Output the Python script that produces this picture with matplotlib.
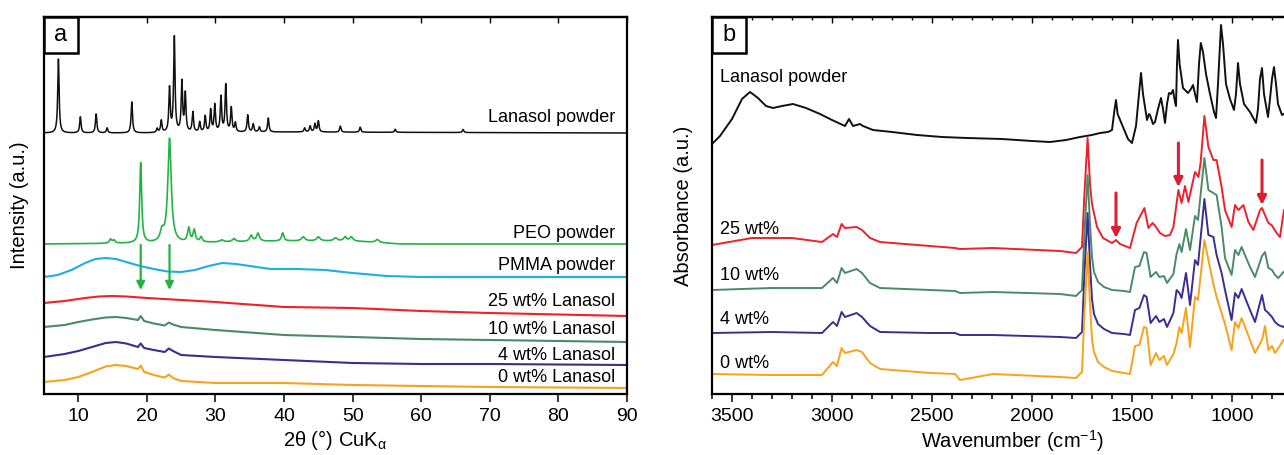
import numpy as np
import matplotlib
matplotlib.use("Agg")
import matplotlib.pyplot as plt
from matplotlib.patches import Rectangle

plt.rcParams["font.family"] = ["Liberation Sans", "DejaVu Sans"]
plt.rcParams["mathtext.fontset"] = "custom"
plt.rcParams["mathtext.rm"] = "Liberation Sans"
plt.rcParams["mathtext.it"] = "Liberation Sans:italic"

# ---------- panel a: XRD ----------
# sharp peaks: (2theta, height); half widths fixed below
lanasol_xrd_pos = [7.1, 10.3, 12.6, 14.2, 17.8, 21.5, 22.1, 23.3, 24.0, 25.1, 25.6, 26.7, 27.7,
                   28.5, 29.3, 29.9, 30.8, 31.5, 32.3, 32.9, 34.7, 35.5, 36.4, 37.7, 43.0, 43.8,
                   44.5, 45.0, 48.2, 51.1, 56.2, 66.1]
lanasol_xrd_h = [74, 16, 19, 5, 31, 4, 12, 44, 95, 50, 38, 20, 10,
                 16, 22, 27, 35, 47, 24, 9, 17, 8, 5, 14, 4, 6,
                 8, 11, 6, 5, 3, 3]
lanasol_xrd_base_x = [5, 20, 40, 90]
lanasol_xrd_base_y = [261, 261, 262, 261]

peo_xrd_pos = [14.7, 15.2, 19.1, 22.2, 23.3, 26.1, 26.9, 27.9, 30.9, 32.7, 35.2, 36.2, 39.8,
               42.8, 45.0, 47.5, 48.9, 49.8, 53.6]
peo_xrd_h = [4, 3, 80, 10, 104, 14, 12, 5, 2, 3, 6, 8, 8, 4, 4, 3, 4, 4, 3]
peo_xrd_w = [0.2, 0.2, 0.17, 0.3, 0.3, 0.2, 0.2, 0.2, 0.3, 0.3, 0.25, 0.25, 0.2,
             0.3, 0.3, 0.3, 0.25, 0.25, 0.3]
peo_xrd_base_x = [5, 25, 40, 50, 57, 90]
peo_xrd_base_y = [150, 151, 153, 153, 150, 150]

pmma_x = [5, 7, 9, 11, 12.5, 14, 15.5, 17, 19, 21, 23, 25, 27, 29, 31, 33, 35, 38, 42, 46,
          50, 55, 60, 70, 90]
pmma_y = [117, 119, 124, 131, 135, 136, 135, 132, 128, 125, 122.5, 122, 124, 128, 131, 130,
          128, 125, 125, 124, 121, 118, 117, 117, 117]

wt25_x = [5, 8, 11, 13, 15, 17, 20, 25, 30, 40, 50, 60, 70, 90]
wt25_y = [91, 93, 96, 97.5, 98, 97.5, 96, 94, 92, 87, 86, 83, 81, 78]

film_x = [5, 8, 10, 12, 14, 15.5, 17, 18.7, 19.1, 19.6, 21, 22.6, 23.2, 23.8, 25, 30, 40,
          50, 60, 70, 90]
wt10_y = [67, 69, 72, 74.5, 76.5, 77, 76, 74, 78, 73, 70.5, 68.5, 71.5, 69.5, 67, 64, 59,
          57, 55, 54, 52]
wt4_y = [37, 40, 43, 47, 51, 52, 50.5, 47, 50.5, 46, 44, 42, 45.5, 43, 39, 37, 34,
         31, 30, 30, 29]
wt0_y = [12, 14, 17, 22, 27.5, 29, 28, 25, 28.5, 22, 19, 16.5, 19.5, 16, 13, 11, 11,
         9, 8, 7, 6]

xrd_labels = ["Lanasol powder", "PEO powder", "PMMA powder", "25 wt% Lanasol",
              "10 wt% Lanasol", "4 wt% Lanasol", "0 wt% Lanasol"]
xrd_label_y = [276, 161, 128, 93, 64, 38, 17]
xrd_arrow_x = [19.1, 23.3]

# ---------- panel b: FTIR ----------
lanasol_ir_wn = [3600, 3560, 3500, 3450, 3410, 3370, 3330, 3295, 3250, 3195, 3130, 3060, 3000,
                 2935, 2915, 2895, 2860, 2845, 2795, 2700, 2575, 2450, 2325, 2150, 2000, 1910,
                 1830, 1760, 1700, 1660, 1620, 1600, 1587, 1580, 1572, 1545, 1520, 1500, 1480,
                 1465, 1455, 1445, 1425, 1415, 1410, 1395, 1385, 1370, 1355, 1345, 1335, 1325,
                 1315, 1305, 1295, 1285, 1280, 1275, 1270, 1262, 1245, 1220, 1205, 1195, 1185,
                 1175, 1165, 1156, 1145, 1130, 1110, 1090, 1080, 1070, 1055, 1045, 1030, 1010,
                 990, 980, 970, 960, 940, 910, 880, 870, 860, 850, 840, 820, 810, 800, 790,
                 780, 770, 750, 700, 650, 600]
lanasol_ir_y = [250, 258, 275, 295, 302, 296, 288, 286, 288, 290, 286, 280, 274,
                268, 275, 268, 270, 268, 264, 262, 259, 257, 256, 255, 253, 252,
                254, 257, 259, 261, 262, 264, 285, 294, 280, 267, 255, 251, 268,
                300, 321, 300, 274, 280, 279, 270, 272, 285, 296, 285, 271, 290,
                301, 300, 304, 292, 288, 330, 354, 330, 306, 301, 305, 309, 300,
                292, 330, 351, 342, 320, 300, 282, 276, 310, 369, 350, 310, 295,
                284, 300, 331, 310, 290, 282, 271, 285, 315, 326, 300, 277, 295, 315, 327,
                310, 290, 279, 285, 290, 290]

wt25_ir_wn = [3600, 3400, 3200, 3050, 2995, 2975, 2952, 2935, 2877, 2850, 2810, 2760, 2510,
              2385, 2360, 2195, 1860, 1780, 1750, 1738, 1722, 1710, 1700, 1675, 1645, 1600,
              1580, 1560, 1510, 1477, 1438, 1418, 1397, 1380, 1360, 1335, 1310, 1293, 1268,
              1252, 1235, 1218, 1185, 1168, 1157, 1138, 1118, 1093, 1077, 1052, 1035, 1002,
              985, 968, 943, 918, 893, 860, 850, 818, 802, 777, 760, 740, 700, 600]
wt25_ir_y = [149, 156, 156, 152, 160, 157, 170, 166, 167, 164, 156, 152, 148,
             146, 145, 146, 143, 141, 147, 200, 256, 210, 190, 167, 156, 151,
             154, 150, 146, 171, 186, 166, 171, 167, 161, 158, 159, 167, 204,
             191, 208, 192, 222, 217, 231, 278, 247, 234, 234, 207, 184, 167,
             189, 184, 189, 172, 164, 184, 186, 171, 169, 161, 157, 184, 190, 190]

# 10, 4 and 0 wt% share the same digitised positions
film_ir_wn = [3600, 3300, 3050, 2995, 2975, 2952, 2935, 2877, 2850, 2810, 2760, 2510, 2385,
              2360, 2195, 1860, 1780, 1750, 1738, 1722, 1710, 1700, 1690, 1670, 1640, 1600,
              1540, 1510, 1485, 1463, 1440, 1427, 1407, 1380, 1363, 1340, 1325, 1293, 1277,
              1263, 1252, 1230, 1210, 1185, 1170, 1138, 1118, 1093, 1077, 1052, 1035, 1002,
              985, 968, 952, 910, 885, 850, 835, 818, 800, 785, 768, 743, 700, 600]
wt10_ir_y = [104, 106, 106, 116, 111, 126, 121, 125, 121, 111, 106, 104, 103,
             101, 102, 100, 98, 104, 160, 219, 170, 137, 122, 112, 107, 104,
             103, 102, 127, 128, 142, 141, 117, 122, 117, 118, 111, 120, 140,
             150, 142, 165, 144, 178, 174, 236, 204, 201, 199, 167, 136, 119,
             144, 139, 147, 127, 117, 138, 142, 126, 124, 119, 116, 122, 128, 128]
wt4_ir_y = [61, 62, 61, 72, 68, 82, 77, 81, 77, 68, 62, 61, 61,
            59, 59, 57, 56, 62, 120, 181, 130, 95, 80, 70, 65, 61,
            60, 59, 84, 86, 99, 97, 71, 78, 72, 75, 67, 81, 104,
            101, 96, 121, 89, 134, 129, 195, 159, 157, 139, 121, 104, 74,
            101, 96, 105, 84, 72, 99, 84, 81, 77, 72, 69, 67, 75, 75]
wt0_ir_y = [20, 19, 19, 32, 28, 46, 41, 44, 42, 31, 25, 21, 20,
            14, 20, 17, 16, 22, 80, 142, 90, 55, 42, 32, 27, 23,
            21, 20, 48, 49, 67, 66, 29, 41, 34, 38, 29, 40, 51,
            67, 61, 86, 47, 97, 94, 154, 134, 110, 97, 81, 70, 44,
            72, 66, 76, 54, 41, 54, 68, 44, 48, 41, 46, 54, 60, 60]

ir_labels = ["Lanasol powder", "25 wt%", "10 wt%", "4 wt%", "0 wt%"]
ir_label_y = [316, 165, 119, 74, 31]
ir_arrow_wn = [1580, 1268, 850]
ir_arrow_top = [201, 251, 234]
ir_arrow_tip = [156, 207, 189]

colors = {
    "black": "#111111",
    "green": "#22b343",
    "cyan": "#1eaee6",
    "red": "#f0202a",
    "teal": "#4b8a68",
    "purple": "#3b2d92",
    "orange": "#f8a21c",
    "arrow_red": "#dc1f30",
}


def lorentz_sum(x, pos, h, w):
    y = np.zeros_like(x)
    for p, a, g in zip(pos, h, w):
        y += a * g ** 2 / ((x - p) ** 2 + g ** 2)
    return y


def style_axes(ax, major, minor=None):
    for s in ax.spines.values():
        s.set_linewidth(1.6)
    ax.set_yticks([])
    ax.set_xticks(major)
    if minor is not None:
        ax.set_xticks(minor, minor=True)
    ax.tick_params(axis="x", which="major", direction="out", length=6, width=1.1,
                   labelsize=14, pad=4)
    ax.tick_params(axis="x", which="minor", direction="out", length=3.5, width=1.1)
    # inward ticks on the top spine
    top = ax.secondary_xaxis("top")
    top.set_xticks(major)
    if minor is not None:
        top.set_xticks(minor, minor=True)
    top.tick_params(axis="x", which="major", direction="in", length=4, width=1.0,
                    labeltop=False)
    top.tick_params(axis="x", which="minor", direction="in", length=2.5, width=1.0)
    top.spines["top"].set_linewidth(1.6)


def panel_letter(ax, letter, w_frac, h_frac):
    ax.add_patch(Rectangle((0, 1 - h_frac), w_frac, h_frac, transform=ax.transAxes,
                           facecolor="white", edgecolor="black", lw=1.8, zorder=10,
                           clip_on=False))
    ax.text(w_frac / 2, 1 - h_frac / 2, letter, transform=ax.transAxes, ha="center",
            va="center", fontsize=17, zorder=11)


fig = plt.figure(figsize=(12.84, 4.55), dpi=100)

# ---- panel a ----
ax = fig.add_axes([44 / 1284, 61 / 455, 583 / 1284, 377 / 455])
tt = np.linspace(5, 90, 6000)
lan = np.interp(tt, lanasol_xrd_base_x, lanasol_xrd_base_y) + \
    lorentz_sum(tt, lanasol_xrd_pos, lanasol_xrd_h, [0.12] * len(lanasol_xrd_pos))
peo = np.interp(tt, peo_xrd_base_x, peo_xrd_base_y) + \
    lorentz_sum(tt, peo_xrd_pos, peo_xrd_h, peo_xrd_w)
ax.plot(tt, lan, color=colors["black"], lw=1.1)
ax.plot(tt, peo, color=colors["green"], lw=1.2)
ax.plot(pmma_x, pmma_y, color=colors["cyan"], lw=1.5)
ax.plot(wt25_x, wt25_y, color=colors["red"], lw=1.5)
ax.plot(film_x, wt10_y, color=colors["teal"], lw=1.5)
ax.plot(film_x, wt4_y, color=colors["purple"], lw=1.5)
ax.plot(film_x, wt0_y, color=colors["orange"], lw=1.5)
for lab, yy in zip(xrd_labels, xrd_label_y):
    ax.text(88.3, yy, lab, ha="right", va="center", fontsize=13)
for xa in xrd_arrow_x:
    ax.annotate("", xy=(xa, 104), xytext=(xa, 149),
                arrowprops=dict(arrowstyle="-|>", color=colors["green"], lw=1.6,
                                mutation_scale=12, shrinkA=0, shrinkB=0))
ax.set_xlim(5, 90)
ax.set_ylim(0, 377)
style_axes(ax, list(range(10, 91, 10)))
ax.set_xlabel(r"2θ (°) CuK$_\mathregular{α}$", fontsize=14.5, labelpad=2)
ax.set_ylabel("Intensity (a.u.)", fontsize=14.5)
ax.yaxis.set_label_coords(-0.026, 0.5)
panel_letter(ax, "a", 34 / 583, 36 / 377)

# ---- panel b ----
bx = fig.add_axes([712 / 1284, 61 / 455, 600 / 1284, 377 / 455])
bx.plot(lanasol_ir_wn, lanasol_ir_y, color=colors["black"], lw=1.4)
bx.plot(wt25_ir_wn, wt25_ir_y, color=colors["red"], lw=1.4)
bx.plot(film_ir_wn, wt10_ir_y, color=colors["teal"], lw=1.4)
bx.plot(film_ir_wn, wt4_ir_y, color=colors["purple"], lw=1.4)
bx.plot(film_ir_wn, wt0_ir_y, color=colors["orange"], lw=1.4)
for lab, yy in zip(ir_labels, ir_label_y):
    bx.text(3560, yy, lab, ha="left", va="center", fontsize=13)
for wa, y0, y1 in zip(ir_arrow_wn, ir_arrow_top, ir_arrow_tip):
    bx.annotate("", xy=(wa, y1), xytext=(wa, y0),
                arrowprops=dict(arrowstyle="-|>", color=colors["arrow_red"], lw=2.2,
                                mutation_scale=13, shrinkA=0, shrinkB=0))
bx.set_xlim(3600, 600)
bx.set_ylim(0, 377)
style_axes(bx, list(range(3500, 599, -500)), list(range(3600, 599, -100)))
bx.set_xlabel(r"Wavenumber (cm$^\mathregular{-1}$)", fontsize=14.5, labelpad=2)
bx.set_ylabel("Absorbance (a.u.)", fontsize=14.5)
bx.yaxis.set_label_coords(-0.032, 0.5)
panel_letter(bx, "b", 34 / 600, 36 / 377)

fig.savefig("out.png", dpi=100)
